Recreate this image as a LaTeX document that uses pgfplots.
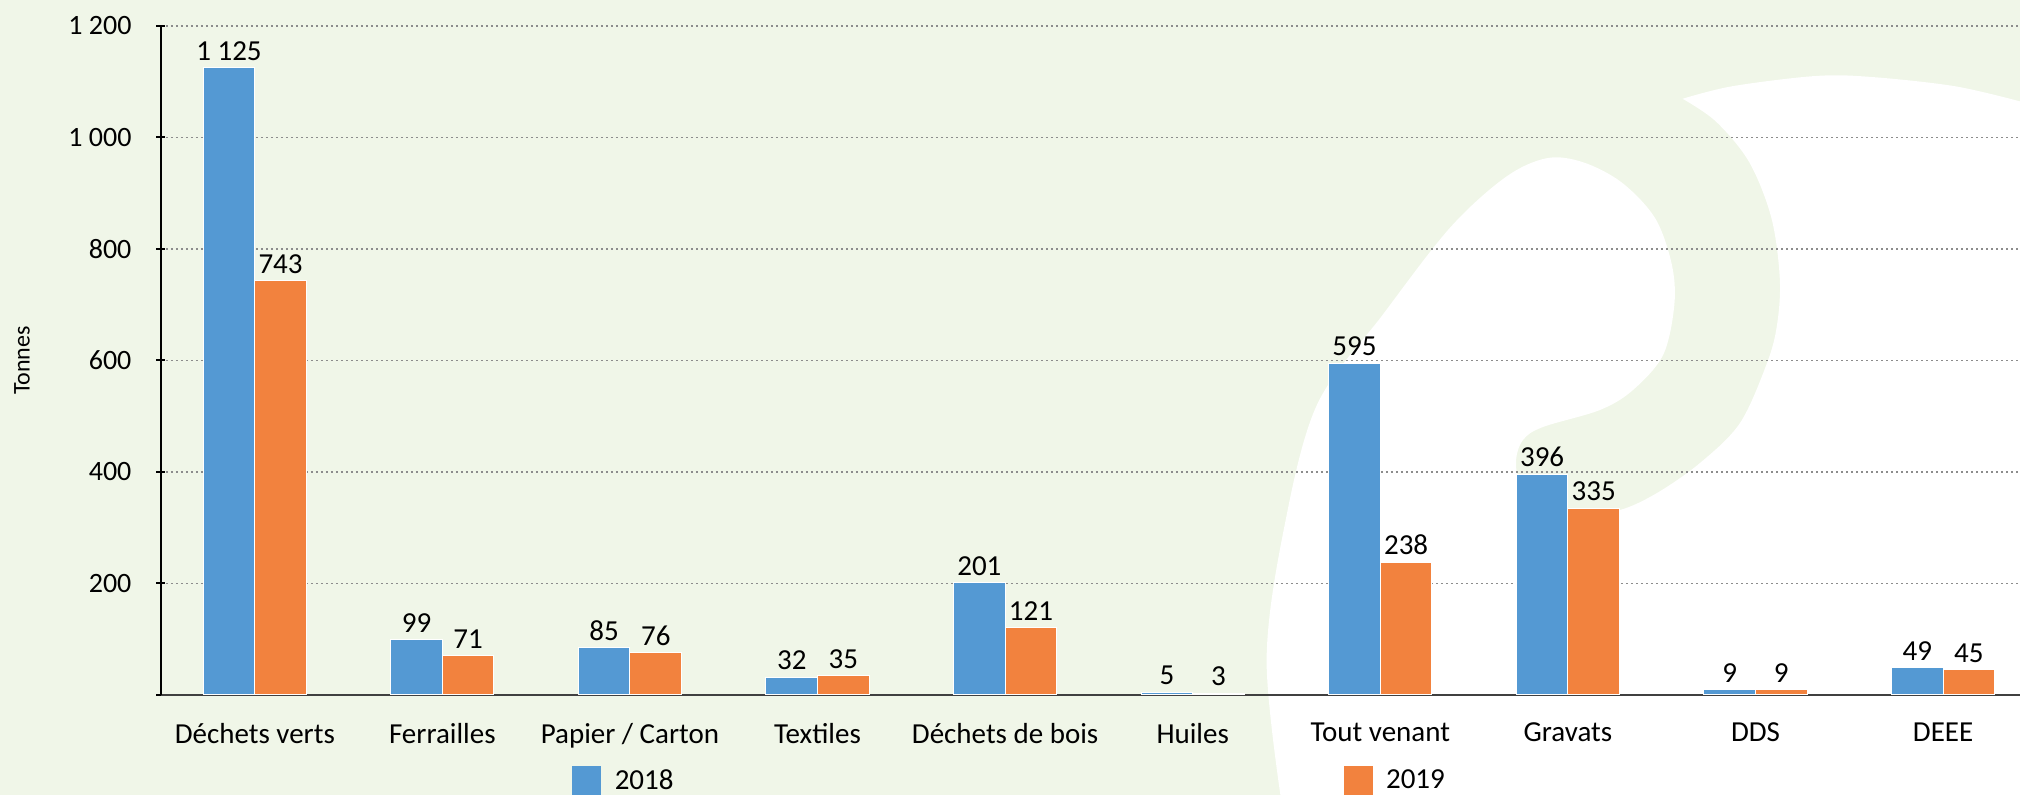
\documentclass[border=0pt]{standalone}
\usepackage{fontspec}
\setmainfont{Carlito}
\usepackage{pgfplots}
\pgfplotsset{compat=1.18}
\definecolor{bgg}{RGB}{240,246,232}
\definecolor{cblue}{RGB}{84,153,211}
\definecolor{corange}{RGB}{242,130,62}
\begin{document}
\begin{tikzpicture}
\fill[bgg] (0pt,0pt) rectangle (1010pt,397.5pt);
\fill[white] plot[smooth,tension=0.55] coordinates {(640.2pt,0pt) (633.3pt,67.9pt) (641.6pt,131.3pt) (658.3pt,194.7pt) (691.5pt,240.3pt) (724.8pt,283.4pt) (752.6pt,308.8pt) (773.4pt,318.4pt) (791.4pt,316.4pt) (810.8pt,306.3pt) (827.5pt,288.5pt) (835.8pt,265.7pt) (837.2pt,245.4pt) (831.6pt,220.1pt) (816.5pt,202.5pt) (800pt,192.5pt) (771.5pt,184pt) (761.5pt,177.5pt) (758pt,166.5pt) (761pt,151.5pt) (772.5pt,142.5pt) (790pt,140.5pt) (810pt,142.5pt) (828.5pt,151pt) (850pt,166pt) (870pt,186pt) (883.5pt,216pt) (888.5pt,235pt) (889.9pt,258.1pt) (885.7pt,288.5pt) (874.6pt,316.4pt) (858.0pt,336.7pt) (841.3pt,348.1pt)}
 -- plot[smooth,tension=0.55] coordinates {(841.3pt,348.1pt) (866.3pt,354.4pt) (907.9pt,359.5pt) (935.7pt,359.0pt) (977.3pt,354.4pt) (1010pt,346.8pt)}
 -- (1010pt,0pt) -- cycle;
\begin{axis}[
  at={(80.5pt,50pt)}, anchor=south west,
  scale only axis, width=929.5pt, height=334.5pt,
  xmin=-0.5, xmax=9.41, ymin=0, ymax=1200,
  clip=false,
  axis lines=left, axis line style={-},
  x axis line style={draw=black!75, line width=0.8pt},
  y axis line style={draw=black, line width=1pt},
  tick align=center, major tick length=4.5pt,
  ytick={0,200,...,1200},
  yticklabels={,200,400,600,800,1 000,1 200},
  ytick style={black, line width=1pt},
  xtick={0,...,9},
  xticklabels={Déchets verts, Ferrailles, Papier / Carton, Textiles, Déchets de bois, Huiles, Tout venant, Gravats, DDS, DEEE},
  xtick style={draw=none},
  yticklabel style={font=\fontsize{14}{16}\selectfont, xshift=-9pt},
  xticklabel style={font=\fontsize{14.5}{17}\selectfont, yshift=-6pt},
  ymajorgrids,
  grid style={draw=black!45, line width=0.7pt, dash pattern=on 0.8pt off 1.7pt},
  /pgf/number format/assume math mode=true,
  /pgf/number format/1000 sep={\ },
  ylabel={Tonnes},
  every axis y label/.style={at={(axis description cs:0,0.5)}, xshift=-69.5pt, rotate=90, anchor=center, font=\fontsize{12}{14}\selectfont},
  ybar=0pt, bar width=0.275,
  nodes near coords,
  every node near coord/.append style={font=\fontsize{14.5}{17}\selectfont, black},
  legend columns=2,
  legend style={at={(0.457,-0.1286)}, anchor=center, draw=none, fill=none, font=\fontsize{14.5}{17}\selectfont,
    /tikz/every odd column/.append style={column sep=4.75pt},
    /tikz/every even column/.append style={column sep=333pt}},
  legend image code/.code={\fill[#1, draw=none] (0pt,-7.5pt) rectangle (14.5pt,7.5pt);},
]
\addplot[fill=cblue, draw=white, line width=0.5pt, bar shift=-0.1375] coordinates {(0,1125) (1,99) (2,85) (3,32) (4,201) (5,5) (6,595) (7,396) (8,9) (9,49)};
\addplot[fill=corange, draw=white, line width=0.5pt, bar shift=0.1375] coordinates {(0,743) (1,71) (2,76) (3,35) (4,121) (5,3) (6,238) (7,335) (8,9) (9,45)};
\legend{2018,2019}
\end{axis}
\pgfresetboundingbox
\useasboundingbox (0pt,0pt) rectangle (1010pt,397.5pt);
\end{tikzpicture}
\end{document}
